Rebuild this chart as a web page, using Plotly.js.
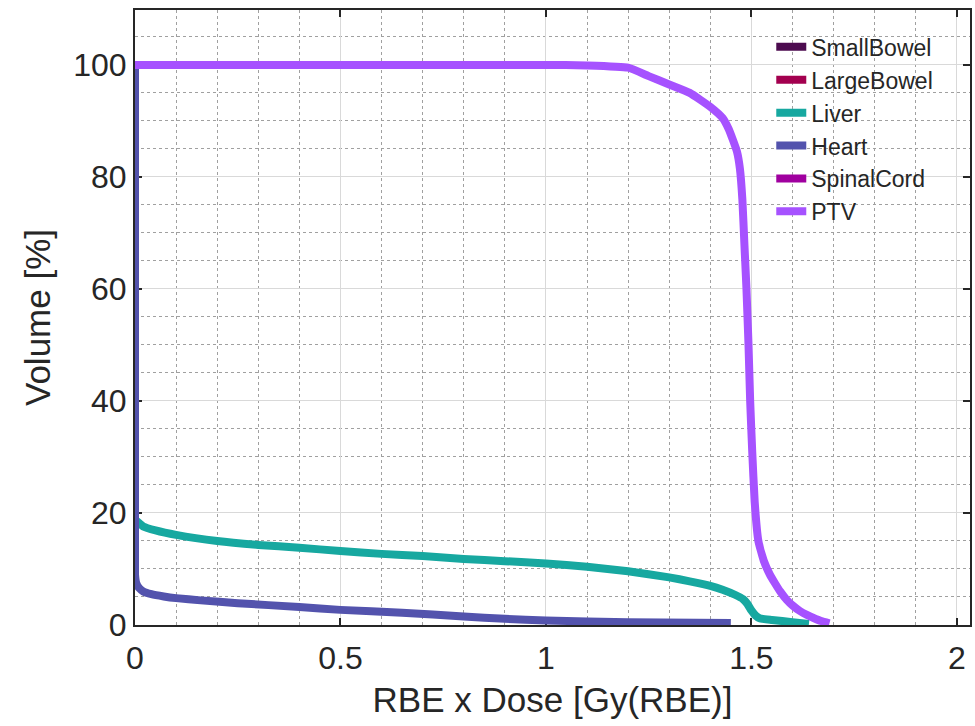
<!DOCTYPE html>
<html>
<head>
<meta charset="utf-8">
<script src="https://cdn.plot.ly/plotly-3.0.1.min.js"></script>
<style>html,body{margin:0;padding:0;background:#fff;}#chart{width:975px;height:726px;}</style>
</head>
<body>
<div id="chart"></div>
<script>
// Structure names (legend order)
const organs = ["SmallBowel", "LargeBowel", "Liver", "Heart", "SpinalCord", "PTV"];
const colors = ["#4c0b4f", "#a3004f", "#17a8a0", "#5353ad", "#a0009f", "#a652ff"];

// DVH data: dose [Gy(RBE)] and volume [%]; structures without a visible curve have no plotted values
const smallBowelDose = [0];
const smallBowelVol = [null];
const largeBowelDose = [0];
const largeBowelVol = [null];
const spinalCordDose = [0];
const spinalCordVol = [null];

const liverDose = [0, 0.01, 0.02, 0.05, 0.1, 0.2, 0.3, 0.4, 0.5, 0.6, 0.7, 0.8, 0.9, 1.0, 1.1, 1.2, 1.3, 1.35, 1.4, 1.43, 1.46, 1.48, 1.49, 1.5, 1.51, 1.52, 1.55, 1.6, 1.64];
const liverVol  = [18.8, 18.2, 17.6, 16.9, 16.1, 15.0, 14.3, 13.8, 13.2, 12.7, 12.3, 11.8, 11.4, 11.0, 10.4, 9.6, 8.5, 7.8, 7.0, 6.3, 5.4, 4.6, 3.8, 2.6, 1.7, 1.2, 0.9, 0.5, 0.2];

const heartDose = [0, 0, 0.003, 0.01, 0.02, 0.04, 0.07, 0.1, 0.16, 0.25, 0.4, 0.5, 0.65, 0.8, 0.9, 1.0, 1.2, 1.45];
const heartVol  = [100, 9, 7.5, 6.6, 6.0, 5.5, 5.1, 4.8, 4.4, 3.9, 3.2, 2.7, 2.2, 1.5, 1.1, 0.8, 0.5, 0.35];

const ptvDose = [0, 1.0, 1.1, 1.2, 1.25, 1.3, 1.35, 1.4, 1.43, 1.445, 1.455, 1.465, 1.472, 1.478, 1.483, 1.488, 1.493, 1.497, 1.502, 1.508, 1.517, 1.53, 1.545, 1.557, 1.57, 1.586, 1.6, 1.618, 1.635, 1.65, 1.67, 1.69];
const ptvVol  = [100, 100, 99.9, 99.5, 98, 96.5, 95, 92.5, 90.5, 88.5, 86.6, 84.5, 81.5, 76, 68, 60, 50, 40, 31, 22, 15, 11.5, 9, 7.5, 6, 4.5, 3.5, 2.5, 1.8, 1.3, 0.7, 0.3];

const xTicks = [0, 0.5, 1, 1.5, 2];
const yTicks = [0, 20, 40, 60, 80, 100];

const doses = [smallBowelDose, largeBowelDose, liverDose, heartDose, spinalCordDose, ptvDose];
const vols  = [smallBowelVol, largeBowelVol, liverVol, heartVol, spinalCordVol, ptvVol];

const traces = organs.map((name, i) => ({
  type: "scatter",
  mode: "lines",
  name: name,
  x: doses[i],
  y: vols[i],
  line: {color: colors[i], width: 8, shape: "spline", smoothing: 0.4},
  cliponaxis: false,
  showlegend: true
}));

const font = "Liberation Sans, Arial, Helvetica, sans-serif";
const axisCommon = {
  showline: true,
  linecolor: "#262626",
  linewidth: 2,
  mirror: "ticks",
  ticks: "inside",
  ticklen: 7,
  tickwidth: 2,
  tickcolor: "#262626",
  showgrid: true,
  gridcolor: "#d9d9d9",
  gridwidth: 1,
  zeroline: false,
  layer: "below traces",
  tickfont: {family: font, size: 32, color: "#262626"}
};

const layout = {
  width: 975,
  height: 726,
  margin: {l: 135, r: 5, t: 10, b: 101},
  paper_bgcolor: "#ffffff",
  plot_bgcolor: "#ffffff",
  showlegend: true,
  xaxis: Object.assign({}, axisCommon, {
    range: [0, 2.032],
    tickvals: xTicks,
    ticktext: xTicks.map(String),
    ticklabelstandoff: 4,
    minor: {dtick: 0.1, tick0: 0, showgrid: true, gridcolor: "#a0a0a0", griddash: "dot", gridwidth: 1},
    title: {text: "RBE x Dose [Gy(RBE)]", font: {family: font, size: 35, color: "#262626"}, standoff: 12}
  }),
  yaxis: Object.assign({}, axisCommon, {
    range: [0, 109.8],
    tickvals: yTicks,
    ticktext: yTicks.map(String),
    minor: {dtick: 5, tick0: 0, showgrid: true, gridcolor: "#a0a0a0", griddash: "dot", gridwidth: 1},
    title: {text: "Volume [%]", font: {family: font, size: 35, color: "#262626"}, standoff: 12}
  }),
  legend: {
    x: 0.762, y: 0.975, xanchor: "left", yanchor: "top",
    bgcolor: "rgba(255,255,255,0)",
    borderwidth: 0,
    font: {family: font, size: 23, color: "#262626"},
    tracegroupgap: 0,
    itemwidth: 30
  }
};

Plotly.newPlot("chart", traces, layout, {displayModeBar: false, staticPlot: true});
</script>
</body>
</html>
